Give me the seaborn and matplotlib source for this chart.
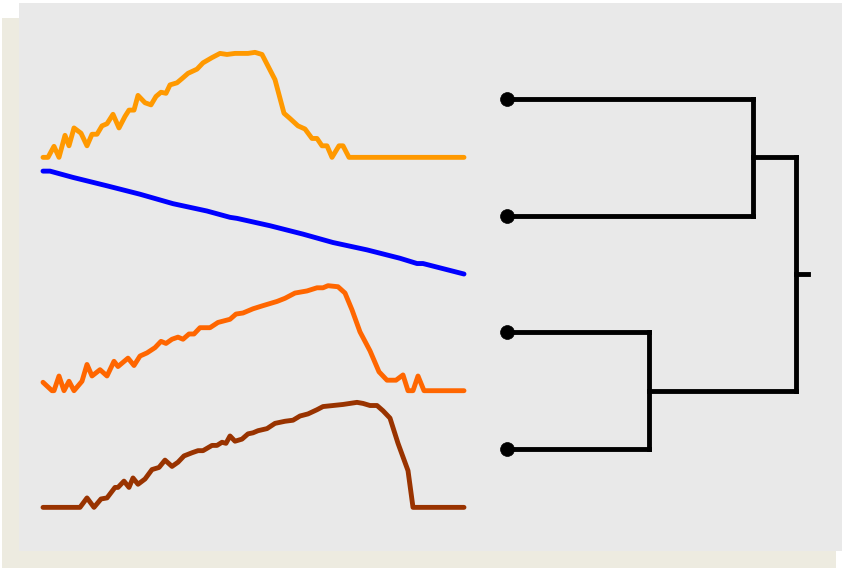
import numpy as np
import pandas as pd
import matplotlib
matplotlib.use("Agg")
import matplotlib.pyplot as plt
from matplotlib.patches import Rectangle
import seaborn as sns

# ---- time series (time in ms, normalised amplitude 0..1) ----
series_names = ["S1", "S2", "S3", "S4"]
series_colors = ["#ff9900", "#0000ff", "#ff6600", "#993300"]

s1_t = [0, 5, 11, 16, 22, 26, 31, 38, 44, 49, 54, 59, 64, 70, 76, 82, 86, 91,
        95, 102, 108, 113, 118, 123, 127, 134, 139, 145, 154, 160, 169, 177,
        184, 192, 205, 212, 219, 232, 241, 247, 255, 262, 269, 274, 279, 284,
        289, 296, 300, 306, 421]
s1_v = [0.0, 0.0, 0.105, 0.0, 0.21, 0.11, 0.28, 0.23, 0.11, 0.22, 0.22, 0.30,
        0.32, 0.41, 0.28, 0.39, 0.45, 0.45, 0.59, 0.52, 0.50, 0.58, 0.62, 0.61,
        0.69, 0.71, 0.75, 0.80, 0.84, 0.90, 0.95, 0.99, 0.98, 0.99, 0.99, 1.0,
        0.98, 0.74, 0.42, 0.37, 0.30, 0.27, 0.18, 0.18, 0.11, 0.11, 0.0, 0.11,
        0.11, 0.0, 0.0]

s2_t = [0, 7, 30, 64, 97, 130, 164, 187, 194, 227, 260, 290, 324, 357, 374,
        380, 421]
s2_v = [0.98, 0.98, 0.92, 0.84, 0.76, 0.67, 0.60, 0.54, 0.53, 0.46, 0.38, 0.30,
        0.23, 0.15, 0.10, 0.10, 0.0]

s3_t = [0, 9, 11, 16, 21, 26, 31, 39, 44, 49, 57, 64, 71, 75, 85, 91, 97, 104,
        112, 118, 123, 129, 135, 140, 146, 151, 157, 167, 175, 187, 193, 200,
        210, 220, 234, 242, 252, 264, 274, 280, 285, 295, 302, 309, 317, 327,
        336, 344, 353, 360, 365, 370, 375, 381, 421]
s3_v = [0.08, 0.0, 0.0, 0.14, 0.0, 0.09, 0.0, 0.09, 0.25, 0.14, 0.20, 0.14,
        0.28, 0.23, 0.31, 0.24, 0.33, 0.36, 0.41, 0.47, 0.45, 0.49, 0.51, 0.49,
        0.54, 0.54, 0.60, 0.60, 0.65, 0.68, 0.73, 0.74, 0.78, 0.81, 0.85, 0.88,
        0.93, 0.95, 0.98, 0.98, 1.0, 0.99, 0.93, 0.77, 0.56, 0.38, 0.18, 0.10,
        0.10, 0.15, 0.0, 0.0, 0.14, 0.0, 0.0]

s4_t = [0, 37, 44, 51, 58, 64, 72, 75, 81, 86, 90, 95, 102, 109, 116, 122, 129,
        135, 141, 149, 155, 160, 169, 174, 179, 183, 187, 192, 199, 205, 210,
        215, 224, 232, 242, 250, 257, 265, 274, 280, 290, 300, 307, 314, 320,
        327, 334, 340, 347, 355, 365, 370, 421]
s4_v = [0.0, 0.0, 0.09, 0.0, 0.08, 0.09, 0.19, 0.19, 0.25, 0.19, 0.28, 0.22,
        0.27, 0.36, 0.38, 0.45, 0.39, 0.43, 0.49, 0.52, 0.54, 0.54, 0.59, 0.59,
        0.62, 0.61, 0.68, 0.63, 0.65, 0.70, 0.71, 0.73, 0.75, 0.80, 0.82, 0.83,
        0.87, 0.89, 0.93, 0.96, 0.97, 0.98, 0.99, 1.0, 0.99, 0.97, 0.97, 0.92,
        0.85, 0.61, 0.35, 0.0, 0.0]

# ---- hierarchical clustering of the four series (leaf order top to bottom) ----
merge_s1_s2 = 0.85
merge_s3_s4 = 0.49
merge_root = 1.0

frames = []
for row, (name, t, v) in enumerate(zip(series_names,
                                        [s1_t, s2_t, s3_t, s4_t],
                                        [s1_v, s2_v, s3_v, s4_v])):
    d = pd.DataFrame({"t": t, "v": v})
    d["series"] = name
    # each trace occupies one row band: baseline at row + 0.5
    d["y"] = row + 0.5 - 0.9 * d["v"]
    frames.append(d)
df = pd.concat(frames, ignore_index=True)

sns.set_theme(style="white")

W, H = 842, 568
fig = plt.figure(figsize=(W / 100, H / 100), dpi=100, facecolor="white")

# drop shadow and panel, kept beneath the axes
fig.patches.append(Rectangle((2 / W, 0), 834 / W, 550 / H, transform=fig.transFigure,
                             facecolor="#edebe0", edgecolor="none", zorder=-3))
fig.patches.append(Rectangle((19 / W, 17 / H), 823 / W, 548 / H, transform=fig.transFigure,
                             facecolor="#e9e9e9", edgecolor="none", zorder=-2))

ylims = (3.874, -0.823)
ax_bottom, ax_height = 17 / H, 548 / H

# traces
ax_l = fig.add_axes([19 / W, ax_bottom, 471 / W, ax_height])
ax_l.set_facecolor("none")
sns.lineplot(data=df, x="t", y="y", hue="series", palette=series_colors,
             hue_order=series_names, estimator=None, sort=False,
             linewidth=3.5, legend=False, ax=ax_l)
ax_l.set_xlim(-24, 447)
ax_l.set_ylim(*ylims)
ax_l.set_axis_off()

# dendrogram
ax_d = fig.add_axes([490 / W, ax_bottom, 352 / W, ax_height])
ax_d.set_facecolor("none")
lw = 3.5
k = "black"
segments = [
    ([0, merge_s1_s2], [0, 0]),
    ([0, merge_s1_s2], [1, 1]),
    ([merge_s1_s2, merge_s1_s2], [0, 1]),
    ([0, merge_s3_s4], [2, 2]),
    ([0, merge_s3_s4], [3, 3]),
    ([merge_s3_s4, merge_s3_s4], [2, 3]),
    ([merge_s1_s2, merge_root], [0.5, 0.5]),
    ([merge_s3_s4, merge_root], [2.5, 2.5]),
    ([merge_root, merge_root], [0.5, 2.5]),
    ([merge_root, merge_root * 1.0415], [1.5, 1.5]),
]
for xs, ys in segments:
    ax_d.plot(xs, ys, color=k, lw=lw, solid_capstyle="projecting")
leaves = pd.DataFrame({"d": [0.0] * 4, "row": range(4)})
sns.scatterplot(data=leaves, x="d", y="row", s=100, color=k, edgecolor=k,
                linewidth=0.5, zorder=5, legend=False, ax=ax_d)
ax_d.set_xlim(-17 / 289, 335 / 289)
ax_d.set_ylim(*ylims)
ax_d.set_axis_off()

fig.savefig("out.png", dpi=100, facecolor="white")
